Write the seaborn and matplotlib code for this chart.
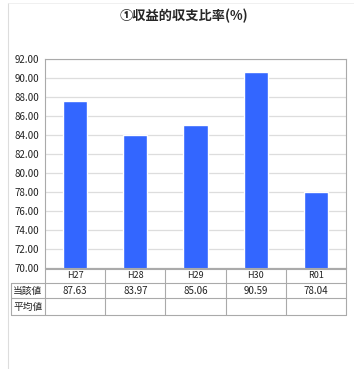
import matplotlib
matplotlib.use("Agg")
import matplotlib.pyplot as plt
import seaborn as sns
import pandas as pd

categories = ["H27", "H28", "H29", "H30", "R01"]
values = [87.63, 83.97, 85.06, 90.59, 78.04]
value_labels = ["87.63", "83.97", "85.06", "90.59", "78.04"]
row_labels = ["当該値", "平均値"]
title = "①収益的収支比率(%)"
yticks = [70, 72, 74, 76, 78, 80, 82, 84, 86, 88, 90, 92]

sns.set_theme(style="white")
plt.rcParams['font.family'] = ['Noto Sans CJK JP', 'DejaVu Sans']

W, H = 354, 369
fig = plt.figure(figsize=(W / 100, H / 100), dpi=100)
fig.patch.set_facecolor("white")

bg = fig.add_axes([0, 0, 1, 1])
bg.set_xlim(0, W)
bg.set_ylim(H, 0)
bg.axis("off")

L, R, T, B = 45, 346, 59, 268
ax = fig.add_axes([L / W, 1 - B / H, (R - L) / W, (B - T) / H])
df = pd.DataFrame({"cat": categories, "val": values})
sns.barplot(data=df, x="cat", y="val", color="#3366FF", saturation=1, width=0.4, ax=ax)
ax.set_ylim(70, 92)
ax.set_yticks(yticks)
ax.set_yticklabels([f"{v:.2f}" for v in yticks], fontsize=7, color="#222222")
ax.set_xticks([])
ax.set_xlabel("")
ax.set_ylabel("")
ax.tick_params(axis="y", length=0, pad=4)
ax.yaxis.grid(True, color="#dddddd", linewidth=0.9)
ax.set_axisbelow(True)
for s in ax.spines.values():
    s.set_color("#aaaaaa")
    s.set_linewidth(0.8)

fig.text(184 / W, 1 - 16 / H, title, ha="center", va="center", fontsize=9.5, fontweight="bold")

bg.plot([8, 8], [3, H], color="#dddddd", lw=0.8)
bg.plot([8, W], [3, 3], color="#eeeeee", lw=0.6)

lc = "#aaaaaa"
rows_y = [269, 283, 298, 315]
col_x = [L + i * (R - L) / 5 for i in range(6)]
lab_x0 = 11
bg.plot([L, R], [rows_y[0], rows_y[0]], color=lc, lw=0.8)
for yy in rows_y[1:]:
    bg.plot([lab_x0, R], [yy, yy], color=lc, lw=0.8)
bg.plot([lab_x0, lab_x0], [rows_y[1], rows_y[3]], color=lc, lw=0.8)
for xx in col_x:
    bg.plot([xx, xx], [rows_y[0], rows_y[3]], color=lc, lw=0.8)
for i, c in enumerate(categories):
    cx = (col_x[i] + col_x[i + 1]) / 2
    bg.text(cx, (rows_y[0] + rows_y[1]) / 2, c, ha="center", va="center", fontsize=6.5, color="#222222")
    bg.text(cx, (rows_y[1] + rows_y[2]) / 2, value_labels[i], ha="center", va="center", fontsize=7, color="#222222")
for j, rl in enumerate(row_labels):
    bg.text((lab_x0 + L) / 2, (rows_y[j + 1] + rows_y[j + 2]) / 2, rl, ha="center", va="center", fontsize=7, color="#222222")

fig.savefig("out.png", dpi=100, facecolor="white")
